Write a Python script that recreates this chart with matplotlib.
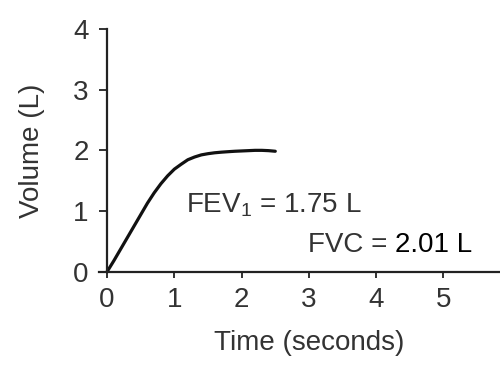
import matplotlib
matplotlib.use("Agg")
import matplotlib.pyplot as plt

# Spirometry volume-time curve
time_s = [0, 0.1, 0.2, 0.3, 0.4, 0.5, 0.6, 0.7, 0.8, 0.9, 1.0, 1.1, 1.2,
          1.3, 1.4, 1.5, 1.6, 1.7, 1.8, 1.9, 2.0, 2.1, 2.2, 2.3, 2.4, 2.5]
volume_l = [0, 0.18, 0.37, 0.56, 0.75, 0.94, 1.13, 1.30, 1.45, 1.58, 1.69, 1.77, 1.845,
            1.89, 1.925, 1.945, 1.96, 1.97, 1.978, 1.985, 1.99, 1.995, 2.0, 2.0, 1.995, 1.985]
x_ticks = [0, 1, 2, 3, 4, 5]
y_ticks = [0, 1, 2, 3, 4]
fev1_label = "FEV$_1$ = 1.75 L"
fvc_label = "FVC = "
fvc_value = "2.01 L"

plt.rcParams["font.family"] = ["Liberation Sans", "DejaVu Sans"]
plt.rcParams["mathtext.fontset"] = "custom"
plt.rcParams["mathtext.rm"] = "Liberation Sans"
plt.rcParams["mathtext.it"] = "Liberation Sans"

grey = "#333333"
fig = plt.figure(figsize=(5, 3.86), dpi=100)
ax = fig.add_axes([0.198, 0.296, 0.802, 0.629])

ax.plot(time_s, volume_l, color="#111111", lw=2.3, clip_on=False,
        solid_capstyle="round", solid_joinstyle="round")

ax.set_xlim(-0.12, 5.84)
ax.set_ylim(0, 4)
ax.spines["left"].set_position(("data", 0))
ax.spines["top"].set_visible(False)
ax.spines["right"].set_visible(False)
for s in ["left", "bottom"]:
    ax.spines[s].set_linewidth(1.6)
    ax.spines[s].set_color("#222222")

ax.set_xticks(x_ticks)
ax.set_yticks(y_ticks)
ax.tick_params(axis="y", direction="out", length=5.8, width=1.3, labelsize=20, colors="#222222", labelcolor=grey, pad=7.5)
ax.tick_params(axis="x", direction="out", length=4, width=1.3, labelsize=20, colors="#222222", labelcolor=grey, pad=7)

ax.set_xlabel("Time (seconds)", fontsize=20, color=grey)
ax.set_ylabel("Volume (L)", fontsize=20, color=grey)
ax.xaxis.set_label_coords(0.525, -0.24)
ax.yaxis.set_label_coords(-0.135, 0.5)

ax.text(1.18, 0.97, fev1_label, fontsize=20, color=grey, va="baseline")
t = ax.text(2.99, 0.32, fvc_label, fontsize=20, color=grey, va="baseline")
ax.annotate(fvc_value, xycoords=t, xy=(1, 0), va="bottom", fontsize=20, color="black")

fig.savefig("out.png", dpi=100)
